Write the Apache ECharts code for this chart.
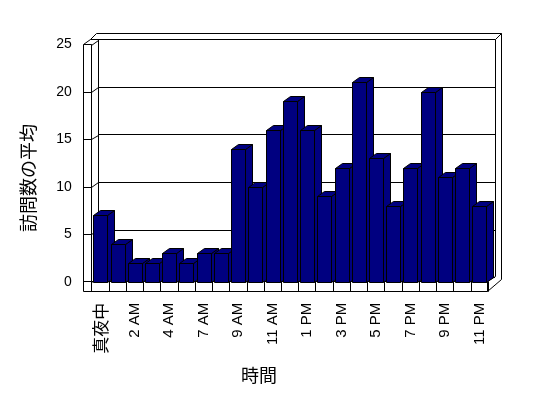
<!DOCTYPE html>
<html>
<head>
<meta charset="utf-8">
<script src="https://cdn.jsdelivr.net/npm/echarts@6/dist/echarts.min.js"></script>
<style>
  html, body { margin: 0; padding: 0; background: #fff; }
</style>
</head>
<body>
<div id="main1" style="width: 548px;height: 398px;"></div>
<script>
    // 時間ごとの訪問数の平均 (6 AM はデータなし)
    const hours = ['真夜中', '1 AM', '2 AM', '3 AM', '4 AM', '5 AM', '7 AM', '8 AM', '9 AM', '10 AM', '11 AM', '12 PM',
        '1 PM', '2 PM', '3 PM', '4 PM', '5 PM', '6 PM', '7 PM', '8 PM', '9 PM', '10 PM', '11 PM'];
    const visits = [7, 4, 2, 2, 3, 2, 3, 3, 14, 10, 16, 19, 16, 9, 12, 21, 13, 8, 12, 20, 11, 12, 8];
    const yMin = 0, yMax = 25, yStep = 5;

    const navy = '#000080';
    const dx = 7, dy = 5;   // 奥行き
    const font = '"Liberation Sans", "Noto Sans CJK JP", sans-serif';

    const px = v => Math.round(v) + 0.5;

    function drawBar(params, api) {
        const i = api.value(0);
        const top = api.coord([i, api.value(1)]);
        const base = api.coord([i, 0]);
        const bw = Math.round(api.size([1, 0])[0] * 0.8);
        const x0 = px(top[0] - bw / 2), x1 = x0 + bw;
        const y0 = px(top[1]), y1 = px(base[1]);
        const st = {fill: navy, stroke: '#000', lineWidth: 1};
        return {
            type: 'group',
            children: [
                {type: 'polygon', shape: {points: [[x1, y0], [x1 + dx, y0 - dy], [x1 + dx, y1 - dy], [x1, y1]]}, style: st},
                {type: 'polygon', shape: {points: [[x0, y0], [x0 + dx, y0 - dy], [x1 + dx, y0 - dy], [x1, y0]]}, style: st},
                {type: 'rect', shape: {x: x0, y: y0, width: bw, height: y1 - y0}, style: st}
            ]
        };
    }

    const line = (x1, y1, x2, y2) => ({
        type: 'line', silent: true,
        shape: {x1: x1, y1: y1, x2: x2, y2: y2},
        style: {stroke: '#000', lineWidth: 1}
    });

    const charts = echarts.init(document.getElementById('main1'));
    charts.setOption({
        animation: false,
        backgroundColor: '#fff',
        grid: [
            {left: 91.7, right: 60, top: 44.5, bottom: 116.3},   // 手前の面
            {left: 98, right: 53, top: 39.5, bottom: 120.5}      // 奥の壁
        ],
        xAxis: [{
            type: 'category',
            data: hours,
            gridIndex: 0,
            boundaryGap: true,
            axisLine: {show: true, lineStyle: {color: '#000', width: 1}},
            axisTick: {show: true, interval: 0, length: 10, lineStyle: {color: '#000'}},
            axisLabel: {
                interval: 1, rotate: 90, margin: 21,
                color: '#000', fontSize: 15, fontFamily: font,
                formatter: v => /[^\x00-\x7f]/.test(v) ? '{j|' + v + '}' : v,
                rich: {j: {fontSize: 17, fontFamily: '"Noto Sans CJK JP"', color: '#000'}}
            },
            splitLine: {show: false}
        }, {
            type: 'category',
            data: hours,
            gridIndex: 1,
            show: false
        }],
        yAxis: [{
            type: 'value',
            gridIndex: 0,
            min: yMin, max: yMax, interval: yStep,
            axisLine: {show: false},
            axisTick: {show: true, inside: false, length: 8, lineStyle: {color: '#000'}},
            axisLabel: {margin: 20, color: '#000', fontSize: 14, fontFamily: font},
            splitLine: {show: false}
        }, {
            type: 'value',
            gridIndex: 1,
            min: yMin, max: yMax, interval: yStep,
            axisLine: {show: false},
            axisTick: {show: false},
            axisLabel: {show: false},
            splitLine: {show: true, lineStyle: {color: '#000', width: 1}}
        }],
        series: [{
            type: 'custom',
            xAxisIndex: 0,
            yAxisIndex: 0,
            z: 10,
            renderItem: drawBar,
            encode: {x: 0, y: 1},
            data: visits.map((v, i) => [i, v])
        }]
    });

    // 壁と床の枠線
    const frame = [
        line(83.5, 44.5, 83.5, 291.5),
        line(91.5, 44.5, 91.5, 281.5),
        line(83.5, 44.5, 90.5, 39.5),
        line(90.5, 39.5, 96.5, 33.5),
        line(96.5, 33.5, 501.5, 33.5),
        line(90.5, 39.5, 495.5, 39.5),
        line(98.5, 39.5, 98.5, 277.5),
        line(495.5, 39.5, 501.5, 33.5),
        line(495.5, 39.5, 495.5, 276.5),
        line(501.5, 33.5, 501.5, 279.5),
        line(83.5, 291.5, 487.5, 291.5),
        line(487.5, 281.5, 487.5, 291.5),
        line(487.5, 291.5, 501.5, 279.5),
        line(487.5, 281.5, 495.5, 276.5)
    ];
    for (let v = yMin; v <= yMax; v += yStep) {
        const yf = charts.convertToPixel({yAxisIndex: 0}, v);
        const yb = charts.convertToPixel({yAxisIndex: 1}, v);
        frame.push(line(91.5, px(yf), 98.5, px(yb)));
    }
    frame.push({
        type: 'text', x: 28, y: 178, rotation: Math.PI / 2,
        style: {text: '訪問数の平均', font: '18px "Noto Sans CJK JP"', fill: '#000', align: 'center', verticalAlign: 'middle'}
    });
    frame.push({
        type: 'text', x: 259, y: 375,
        style: {text: '時間', font: '18px "Noto Sans CJK JP"', fill: '#000', align: 'center', verticalAlign: 'middle'}
    });
    charts.setOption({graphic: frame});
</script>
</body>
</html>
